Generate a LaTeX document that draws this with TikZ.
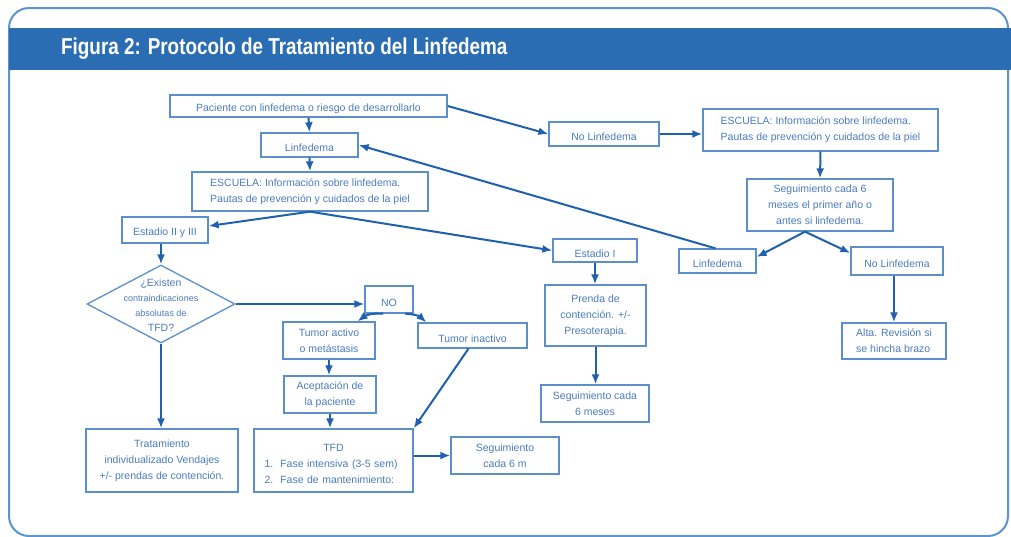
\documentclass[tikz,border=0pt]{standalone}
\usepackage{fontspec}
\setmainfont{Liberation Sans}
\newfontfamily\titlefont{Liberation Sans}[FakeStretch=0.82]
\usetikzlibrary{arrows.meta,shapes.geometric,calc}
\definecolor{lineblue}{HTML}{1F61AE}
\definecolor{boxblue}{HTML}{5A8FCB}
\definecolor{txtblue}{HTML}{4A7BBE}
\definecolor{headblue}{HTML}{2A6DB3}
\definecolor{frameblue}{HTML}{5B94CF}
\begin{document}
\begin{tikzpicture}[x=1pt,y=-1pt,
  box/.style={draw=boxblue, line width=1.3pt, inner sep=0pt, align=center, text=txtblue,
    font=\fontsize{10.5}{16}\selectfont, execute at begin node={\rule{0pt}{14pt}}},
  arr/.style={draw=lineblue, line width=2pt, -{Latex[length=10pt,width=8pt]}}]
\useasboundingbox (0,0) rectangle (1011,536);
% frame and header
\draw[frameblue, line width=2pt, rounded corners=20pt] (9,8) rectangle (1008,536);
\fill[headblue] (9,28) rectangle (1011,70);
\node[anchor=west, text=white, inner sep=0pt, font=\titlefont\bfseries\fontsize{23}{26}\selectfont] (title) at (61,49) {Figura 2: Protocolo de Tratamiento del Linfedema};
% boxes
\node[box, minimum width=277pt, minimum height=22pt] (pac) at (308.5,106) {Paciente con linfedema o riesgo de desarrollarlo};
\node[box, minimum width=97pt, minimum height=24pt] (lin1) at (309.5,145) {Linfedema};
\node[box, align=left, minimum width=236pt, minimum height=39pt] (esc1) at (310,191.5) {ESCUELA: Información sobre linfedema.\\Pautas de prevención y cuidados de la piel};
\node[box, minimum width=110pt, minimum height=24pt] (nolin1) at (604,134) {No Linfedema};
\node[box, align=left, minimum width=235pt, minimum height=42pt] (esc2) at (820.5,130) {ESCUELA: Información sobre linfedema.\\Pautas de prevención y cuidados de la piel};
\node[box, minimum width=146pt, minimum height=52pt] (seg1) at (820,205) {Seguimiento cada 6\\meses el primer año o\\antes si linfedema.};
\node[box, minimum width=77pt, minimum height=24pt] (lin2) at (717.5,261) {Linfedema};
\node[box, minimum width=92pt, minimum height=28pt] (nolin2) at (897,261) {No Linfedema};
\node[box, align=left, minimum width=104pt, minimum height=36pt] (alta) at (894,341) {Alta. Revisión si\\se hincha brazo};
\node[box, minimum width=86pt, minimum height=26pt] (est23) at (165,230) {Estadio II y III};
\node[draw=boxblue, line width=1.3pt, diamond, inner sep=0pt, minimum width=148pt, minimum height=78pt] (diam) at (161,304) {};
\node[align=center, text=txtblue, inner sep=0pt, font=\fontsize{9}{15}\selectfont] (dtext) at (161,305.5) {{\fontsize{10.5}{15}\selectfont ¿Existen}\\contraindicaciones\\absolutas de\\{\fontsize{10.5}{15}\selectfont TFD?}};
\node[box, minimum width=48pt, minimum height=27pt] (no) at (389,299.5) {NO};
\node[box, minimum width=92pt, minimum height=37pt] (tact) at (329,340.5) {Tumor activo\\o metástasis};
\node[box, minimum width=109pt, minimum height=25pt] (tinact) at (472.5,335.5) {Tumor inactivo};
\node[box, minimum width=84pt, minimum height=23pt] (est1) at (595,250.5) {Estadio I};
\node[box, minimum width=101pt, minimum height=61pt] (prenda) at (595.5,315.5) {Prenda de\\contención. +/-\\Presoterapia.};
\node[box, minimum width=108pt, minimum height=37pt] (seg2) at (595,403.5) {Seguimiento cada\\6 meses};
\node[box, minimum width=92pt, minimum height=37pt] (acep) at (330,394.5) {Aceptación de\\la paciente};
\node[box, minimum width=152pt, minimum height=63pt] (trat) at (162,460.5) {Tratamiento\\individualizado Vendajes\\+/- prendas de contención.};
\node[box, align=left, text width=138pt, minimum width=159pt, minimum height=63pt] (tfd) at (333.5,460.5) {\makebox[138pt]{TFD}\\1.~~Fase intensiva (3-5 sem)\\2.~~Fase de mantenimiento:};
\node[box, minimum width=108pt, minimum height=37pt] (seg3) at (505,455.5) {Seguimiento\\cada 6 m};
% connectors
\draw[arr] (pac.south) -- (lin1.north);
\draw[arr] (lin1.south) -- (esc1.north);
\draw[arr] (pac.east) -- (nolin1.west);
\draw[arr] (nolin1.east) -- (nolin1.east -| esc2.west);
\draw[arr] (esc2.south) -- (seg1.north);
\coordinate (segb) at ([xshift=-15pt]seg1.south);
\draw[arr] (segb) -- ([yshift=4pt]lin2.east);
\draw[arr] (segb) -- ([yshift=8pt]nolin2.west);
\draw[arr] ([xshift=-2pt]lin2.north) -- (lin1.east);
\draw[arr] (nolin2.south -| alta.north) -- (alta.north);
\draw[arr] (esc1.south) -- ([yshift=4pt]est23.east);
\draw[arr] (esc1.south) -- (est1.west);
\draw[arr] (diam.north |- est23.south) -- (diam.north);
\draw[arr] (diam.east) -- (diam.east -| no.west);
\draw[arr] (diam.south) -- (diam.south |- trat.north);
\draw[arr] ([xshift=-6pt]no.south) to[bend right=20] ([xshift=-18pt]tact.north east);
\draw[arr] ([xshift=16pt]no.south) to[bend left=20] ([xshift=9pt]tinact.north west);
\draw[arr] (tact.south) -- (tact.south |- acep.north);
\draw[arr] (acep.south) -- (acep.south |- tfd.north);
\draw[arr] ([xshift=-4pt]tinact.south) -- (tfd.north east);
\draw[arr] (tfd.east |- seg3.west) -- (seg3.west);
\draw[arr] (est1.south) -- (est1.south |- prenda.north);
\draw[arr] (prenda.south) -- (prenda.south |- seg2.north);
\end{tikzpicture}
\end{document}
